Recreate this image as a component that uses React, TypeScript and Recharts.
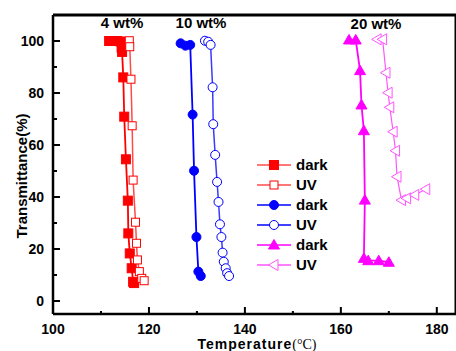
import React from 'react';
import { LineChart, Line, XAxis, YAxis, ReferenceLine, Customized } from 'recharts';

// 4 wt% sample
const t4Dark = [111.7, 112.6, 113.4, 114.1, 114.3, 114.4, 114.65, 114.85, 115.2, 115.6, 115.7, 116.0, 116.4, 116.7, 116.9];
const tr4Dark = [100, 100, 100, 99.8, 97.5, 95.8, 86.0, 70.9, 54.5, 38.6, 26.0, 18.3, 12.6, 7.4, 6.9];
const t4UV = [115.9, 116.0, 116.25, 116.5, 116.7, 117.2, 117.4, 117.6, 118.0, 118.5, 119.0];
const tr4UV = [100.1, 97.8, 85.3, 67.4, 46.5, 30.3, 22.2, 15.8, 11.3, 8.7, 7.8];

// 10 wt% sample
const t10Dark = [126.6, 127.6, 128.6, 129.1, 129.4, 129.9, 130.3, 130.8];
const tr10Dark = [99.1, 98.2, 98.5, 71.7, 50.1, 24.6, 11.3, 9.6];
const t10UV = [131.67, 132.35, 132.85, 133.27, 133.4, 133.8, 134.2, 134.5, 134.8, 135.1, 135.35, 135.6, 136.0, 136.3, 136.7];
const tr10UV = [100.1, 99.7, 98.5, 82.2, 68.0, 56.2, 45.8, 38.1, 29.5, 24.6, 18.6, 15.1, 12.6, 10.7, 9.6];

// 20 wt% sample
const t20Dark = [161.7, 163.1, 164.0, 164.3, 164.8, 165.0, 164.8, 165.7, 167.9, 170.0];
const tr20Dark = [100.4, 100.4, 88.6, 75.4, 65.5, 38.8, 16.4, 15.5, 15.5, 14.9];
const t20UV = [167.56, 168.7, 169.4, 169.85, 170.2, 170.9, 171.4, 171.7, 172.65, 173.7, 175.4, 177.7];
const tr20UV = [100.65, 100.65, 87.8, 80.1, 74.5, 65.1, 57.8, 47.8, 38.8, 39.5, 40.8, 43.0];

const xTicks = [100, 110, 120, 130, 140, 150, 160, 170, 180];
const yTicks = [0, 10, 20, 30, 40, 50, 60, 70, 80, 90, 100];
const legendLabels = ['dark', 'UV', 'dark', 'UV', 'dark', 'UV'];
const sampleLabels = ['4 wt%', '10 wt%', '20 wt%'];

const pts = (t: number[], tr: number[]) => t.map((v, i) => ({ T: v, Tr: tr[i] }));

const FONT = 'Arial, "Liberation Sans", sans-serif';
const RED = '#ff0000';
const RED_LIGHT = '#ff4a4a';
const BLUE = '#0000ff';
const BLUE_LIGHT = '#3a3aff';
const MAG = '#ff00ff';
const MAG_LIGHT = '#ff55ff';

type Shape = 'square' | 'circle' | 'triUp' | 'triLeft';

function Marker({ shape, cx, cy, fill, stroke, size }: { shape: Shape; cx: number; cy: number; fill: string; stroke: string; size: number }) {
  const h = size / 2;
  if (shape === 'square') {
    return <rect x={cx - h} y={cy - h} width={size} height={size} fill={fill} stroke={stroke} strokeWidth={1} />;
  }
  if (shape === 'circle') {
    return <circle cx={cx} cy={cy} r={h} fill={fill} stroke={stroke} strokeWidth={1} />;
  }
  if (shape === 'triUp') {
    return <polygon points={`${cx},${cy - h * 1.1} ${cx - h * 1.1},${cy + h * 0.8} ${cx + h * 1.1},${cy + h * 0.8}`} fill={fill} stroke={stroke} strokeWidth={1} />;
  }
  return <polygon points={`${cx - h * 1.1},${cy} ${cx + h * 0.8},${cy - h * 1.1} ${cx + h * 0.8},${cy + h * 1.1}`} fill={fill} stroke={stroke} strokeWidth={1} />;
}

const makeDot = (shape: Shape, fill: string, stroke: string, size: number) => (props: any) => {
  const { cx, cy, index } = props;
  if (cx == null || cy == null) return <g key={`d-${index}`} />;
  return <Marker key={`d-${index}`} shape={shape} cx={cx} cy={cy} fill={fill} stroke={stroke} size={size} />;
};

const XTick = (props: any) => {
  const { x, y, payload } = props;
  const major = payload.value % 20 === 0;
  return (
    <g>
      <line x1={x} x2={x} y1={y} y2={y - (major ? 7 : 3)} stroke="#000" strokeWidth={2} />
      {major && (
        <text x={x} y={y + 20} textAnchor="middle" fontFamily={FONT} fontWeight="bold" fontSize={14} fill="#000">
          {payload.value}
        </text>
      )}
    </g>
  );
};

const YTick = (props: any) => {
  const { x, y, payload } = props;
  const major = payload.value % 20 === 0;
  return (
    <g>
      <line x1={x} x2={x + (major ? 7 : 4)} y1={y} y2={y} stroke="#000" strokeWidth={2} />
      {major && (
        <text x={x - 9} y={y + 5} textAnchor="end" fontFamily={FONT} fontWeight="bold" fontSize={14} fill="#000">
          {payload.value}
        </text>
      )}
    </g>
  );
};

const legendItems: { shape: Shape; fill: string; stroke: string; line: string; size: number }[] = [
  { shape: 'square', fill: RED, stroke: RED, line: RED_LIGHT, size: 9 },
  { shape: 'square', fill: '#fff', stroke: RED, line: RED_LIGHT, size: 8 },
  { shape: 'circle', fill: BLUE, stroke: BLUE, line: BLUE, size: 9 },
  { shape: 'circle', fill: '#fff', stroke: BLUE, line: BLUE, size: 9 },
  { shape: 'triUp', fill: MAG, stroke: MAG, line: MAG, size: 10 },
  { shape: 'triLeft', fill: '#fff', stroke: MAG_LIGHT, line: MAG_LIGHT, size: 10 },
];

const Annotations = () => (
  <g>
    <text x={122} y={28} textAnchor="middle" fontFamily={FONT} fontWeight="bold" fontSize={15}>{sampleLabels[0]}</text>
    <text x={201} y={28} textAnchor="middle" fontFamily={FONT} fontWeight="bold" fontSize={15}>{sampleLabels[1]}</text>
    <text x={376} y={29} textAnchor="middle" fontFamily={FONT} fontWeight="bold" fontSize={15}>{sampleLabels[2]}</text>
    {legendItems.map((it, i) => {
      const ly = 165 + i * 20;
      return (
        <g key={i}>
          <line x1={257} x2={291} y1={ly} y2={ly} stroke={it.line} strokeWidth={1.5} />
          <Marker shape={it.shape} cx={274} cy={ly} fill={it.fill} stroke={it.stroke} size={it.size} />
          <text x={296} y={ly + 5} fontFamily={FONT} fontWeight="bold" fontSize={15} fill="#000">{legendLabels[i]}</text>
        </g>
      );
    })}
    <text x={21} y={176} transform="rotate(-90 21 176)" textAnchor="middle" dominantBaseline="central" fontFamily={FONT} fontWeight="bold" fontSize={15}>
      Transmittance(%)
    </text>
    <text x={257} y={349} textAnchor="middle" fontFamily={FONT} fontWeight="bold" fontSize={14} letterSpacing={1}>
      Temperature<tspan fontFamily='"Liberation Serif", "Times New Roman", serif' fontWeight="normal" letterSpacing={0}>(°C)</tspan>
    </text>
  </g>
);

export default function App() {
  return (
    <div style={{ position: 'absolute', left: 0, top: 0, background: '#fff' }}>
      <LineChart width={456} height={351} margin={{ top: 15, right: 0, bottom: 0, left: 8 }}>
        <XAxis
          type="number"
          dataKey="T"
          domain={[100, 184]}
          ticks={xTicks}
          allowDataOverflow
          tick={<XTick />}
          tickLine={false}
          tickSize={0}
          tickMargin={0}
          height={37}
          axisLine={{ stroke: '#000', strokeWidth: 2.5 }}
          interval={0}
        />
        <YAxis
          type="number"
          dataKey="Tr"
          domain={[-5, 110]}
          ticks={yTicks}
          allowDataOverflow
          tick={<YTick />}
          tickLine={false}
          tickSize={0}
          tickMargin={0}
          width={45}
          axisLine={{ stroke: '#000', strokeWidth: 2.5 }}
          interval={0}
        />
        <ReferenceLine y={110} stroke="#000" strokeWidth={3} />
        <ReferenceLine x={184} stroke="#000" strokeWidth={3} />
        <Line data={pts(t4Dark, tr4Dark)} dataKey="Tr" stroke={RED} strokeWidth={1.8} dot={makeDot('square', RED, RED, 9)} isAnimationActive={false} />
        <Line data={pts(t4UV, tr4UV)} dataKey="Tr" stroke={RED_LIGHT} strokeWidth={1.5} dot={makeDot('square', '#fff', RED, 8)} isAnimationActive={false} />
        <Line data={pts(t10Dark, tr10Dark)} dataKey="Tr" stroke={BLUE} strokeWidth={1.8} dot={makeDot('circle', BLUE, BLUE, 9)} isAnimationActive={false} />
        <Line data={pts(t10UV, tr10UV)} dataKey="Tr" stroke={BLUE_LIGHT} strokeWidth={1.5} dot={makeDot('circle', '#fff', BLUE, 9)} isAnimationActive={false} />
        <Line data={pts(t20Dark, tr20Dark)} dataKey="Tr" stroke={MAG} strokeWidth={1.8} dot={makeDot('triUp', MAG, MAG, 10)} isAnimationActive={false} />
        <Line data={pts(t20UV, tr20UV)} dataKey="Tr" stroke={MAG_LIGHT} strokeWidth={1.2} dot={makeDot('triLeft', '#fff', MAG_LIGHT, 10)} isAnimationActive={false} />
        <Customized component={Annotations} />
      </LineChart>
    </div>
  );
}
